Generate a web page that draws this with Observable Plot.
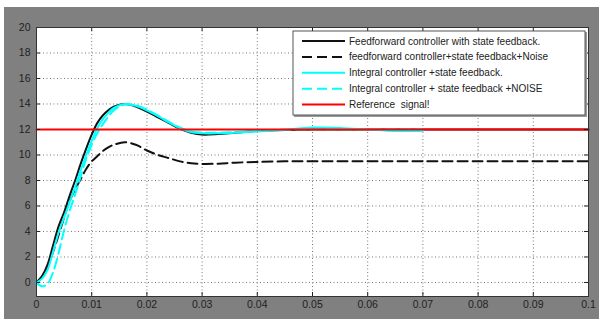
<!DOCTYPE html>
<html>
<head>
<meta charset="utf-8">
<script src="https://cdn.jsdelivr.net/npm/d3@7"></script>
<script src="https://cdn.jsdelivr.net/npm/@observablehq/plot@0.6"></script>
<style>
  body { margin: 0; background: #ffffff; }
  #chart { width: 601px; height: 322px; }
  svg { font-family: "Liberation Sans", Arial, sans-serif; }
</style>
</head>
<body>
<div id="chart"></div>
<script>
// ---- data ----
const time = [0, 0.001, 0.002, 0.003, 0.004, 0.005, 0.006, 0.007, 0.008, 0.009, 0.010, 0.011, 0.012, 0.013, 0.014, 0.016, 0.018, 0.020, 0.022, 0.024, 0.026, 0.028, 0.030, 0.033, 0.036, 0.040, 0.045, 0.050, 0.055, 0.060, 0.065, 0.070, 0.080, 0.090, 0.100];

const feedforward      = [0, 0.5, 1.4, 2.9, 4.4, 5.5, 6.8, 8.0, 9.3, 10.5, 11.6, 12.5, 13.1, 13.5, 13.8, 14.0, 13.8, 13.4, 12.95, 12.5, 12.05, 11.75, 11.6, 11.65, 11.75, 11.88, 11.96, 12.0, 12.0, 12.0, 12.0, 12.0, 12.0, 12.0, 12.0];
const feedforwardNoise = [0, 0.4, 1.2, 2.4, 3.7, 5.1, 6.4, 7.3, 8.1, 8.9, 9.5, 9.9, 10.3, 10.6, 10.8, 11.0, 10.8, 10.35, 10.0, 9.75, 9.5, 9.35, 9.3, 9.32, 9.4, 9.45, 9.5, 9.5, 9.5, 9.5, 9.5, 9.5, 9.5, 9.5, 9.5];
const integral         = [0, 0.3, 1.0, 2.4, 3.9, 5.1, 6.3, 7.5, 8.8, 10.0, 11.1, 12.1, 12.8, 13.3, 13.7, 14.0, 13.85, 13.5, 13.05, 12.55, 12.1, 11.8, 11.7, 11.7, 11.75, 11.85, 11.97, 12.15, 12.12, 12.0, 11.88, 11.9, NaN, NaN, NaN];
const integralNoise    = [0, -0.3, -0.1, 0.8, 2.3, 4.1, 5.6, 6.9, 8.3, 9.7, 10.8, 11.7, 12.4, 13.0, 13.5, 13.95, 13.9, 13.55, 13.1, 12.6, 12.15, 11.85, 11.75, 11.75, 11.8, 11.9, 12.0, 12.0, 12.0, 12.0, 12.0, 12.0, NaN, NaN, NaN];
const refTime   = [0, 0.1];
const reference = [12, 12];

const seriesNames = [
  "Feedforward controller with state feedback.",
  "feedforward controller+state feedback+Noise",
  "Integral controller +state feedback.",
  "Integral controller + state feedback +NOISE",
  "Reference  signal!"
];
const seriesColors = ["#111111", "#111111", "#00ffff", "#00ffff", "#ff0000"];
const seriesDash   = [null, "10,5", null, "10,5", null];

const xTicks = [0, 0.01, 0.02, 0.03, 0.04, 0.05, 0.06, 0.07, 0.08, 0.09, 0.1];
const xTickLabels = ["0", "0.01", "0.02", "0.03", "0.04", "0.05", "0.06", "0.07", "0.08", "0.09", "0.1"];
const yTicks = [0, 2, 4, 6, 8, 10, 12, 14, 16, 18, 20];

// ---- build ----
const rows = (ys, xs = time) => xs.map((t, i) => ({t, v: ys[i]}));
const seriesData = [
  rows(feedforward), rows(feedforwardNoise), rows(integral), rows(integralNoise), rows(reference, refTime)
];

const W = 601, H = 322, mL = 36, mR = 13, mT = 27, mB = 26;
const plotW = W - mL - mR, plotH = H - mT - mB;
const tickLen = 4;

const lineMarks = seriesData.map((d, i) => Plot.line(d, {
  x: "t", y: "v", stroke: seriesColors[i], strokeWidth: 2,
  strokeDasharray: seriesDash[i] || undefined,
  curve: i === 4 ? "linear" : "catmull-rom"
}));

const chart = Plot.plot({
  width: W, height: H,
  marginLeft: mL, marginRight: mR, marginTop: mT, marginBottom: mB,
  style: {background: "transparent", fontFamily: "'Liberation Sans', Arial, sans-serif"},
  x: {domain: [0, 0.1]},
  y: {domain: [-1.1, 20]},
  marks: [
    Plot.frame({fill: "white", stroke: "none"}),
    Plot.gridX(xTicks, {stroke: "#777", strokeOpacity: 1, strokeDasharray: "1,2.5"}),
    Plot.gridY(yTicks, {stroke: "#777", strokeOpacity: 1, strokeDasharray: "1,2.5"}),
    ...lineMarks,
    Plot.tickX(xTicks, {stroke: "#222", insetTop: plotH - tickLen}),
    Plot.tickX(xTicks, {stroke: "#222", insetBottom: plotH - tickLen}),
    Plot.tickY(yTicks, {stroke: "#222", insetLeft: plotW - tickLen}),
    Plot.tickY(yTicks, {stroke: "#222", insetRight: plotW - tickLen}),
    Plot.axisX(xTicks, {tickSize: 0, tickPadding: 4, fontSize: 10.5, fill: "#222",
      tickFormat: d => xTickLabels[xTicks.indexOf(d)], label: null}),
    Plot.axisY(yTicks, {tickSize: 0, tickPadding: 6, fontSize: 10.5, fill: "#222", label: null}),
    Plot.frame({stroke: "#333", strokeWidth: 1})
  ]
});

const svg = d3.select(chart);
// gray figure background
svg.insert("rect", ":first-child")
  .attr("x", 4).attr("y", 7).attr("width", 595).attr("height", 312)
  .attr("fill", "#808080");

// legend
const lg = svg.append("g").attr("class", "legend").attr("text-anchor", "start");
lg.append("rect").attr("x", 294).attr("y", 32).attr("width", 293).attr("height", 85).attr("fill", "#999");
lg.append("rect").attr("x", 293).attr("y", 31).attr("width", 292).attr("height", 84)
  .attr("fill", "white").attr("stroke", "#555").attr("stroke-width", 1);
seriesNames.forEach((name, i) => {
  const y = 41 + i * 15.9;
  lg.append("line").attr("x1", 302).attr("x2", 345).attr("y1", y).attr("y2", y)
    .attr("stroke", seriesColors[i]).attr("stroke-width", 2)
    .attr("stroke-dasharray", seriesDash[i] ? "10,5" : null);
  lg.append("text").attr("x", 349).attr("y", y).attr("dy", "0.35em")
    .attr("text-anchor", "start")
    .attr("font-size", 10).attr("fill", "#222").text(name);
});

document.getElementById("chart").appendChild(chart);
</script>
</body>
</html>
